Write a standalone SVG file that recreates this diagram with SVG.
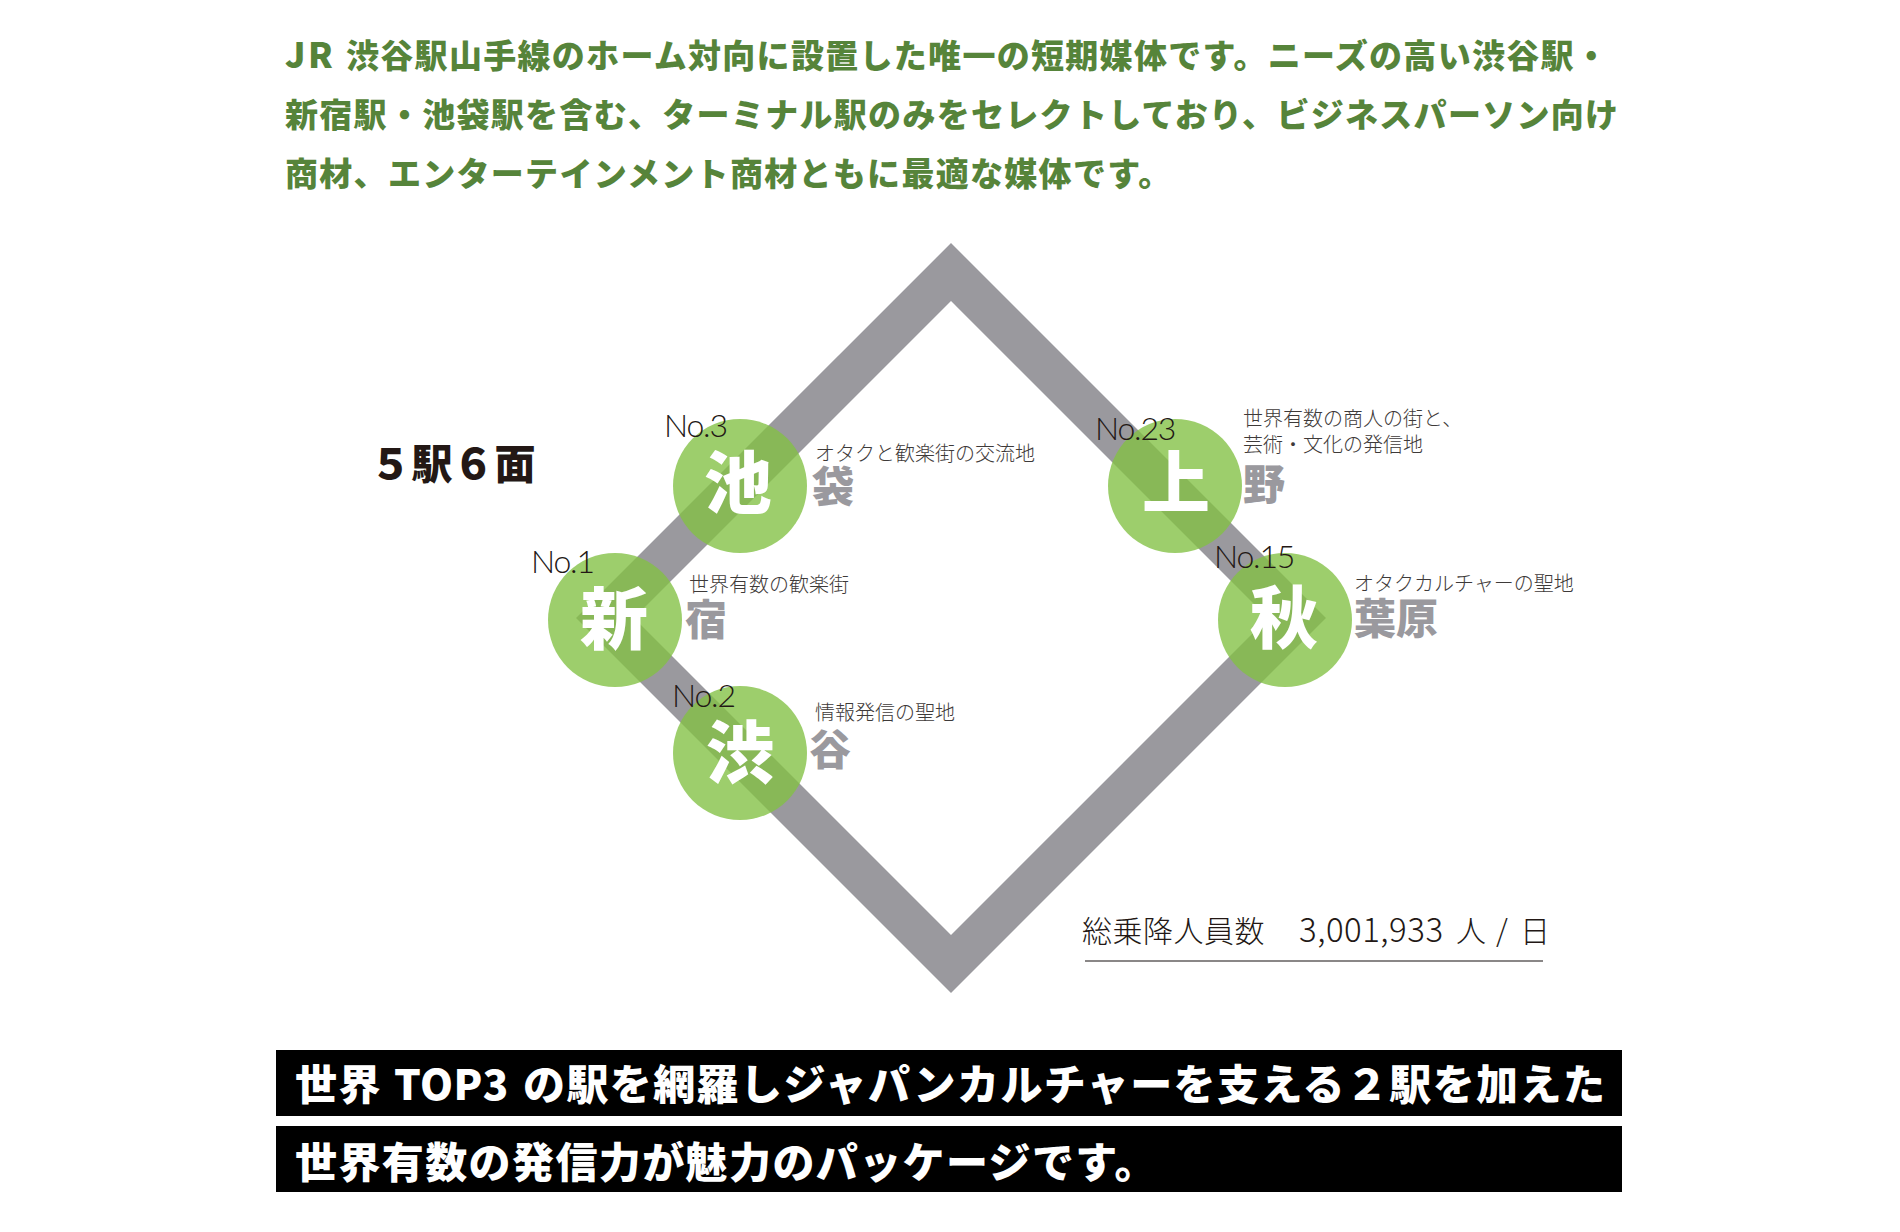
<svg xmlns="http://www.w3.org/2000/svg" width="1900" height="1232" viewBox="0 0 1900 1232">
<style>
.hd{font-family:"Noto Sans CJK JP","Noto Sans CJK SC",sans-serif;font-weight:900;font-size:33px;fill:#56843a;letter-spacing:1.3px}
.big{font-family:"Noto Sans CJK JP",sans-serif;font-weight:900;font-size:68px;fill:#ffffff;text-anchor:middle}
.sub{font-family:"Noto Sans CJK JP",sans-serif;font-weight:900;font-size:42px;fill:#9a999e}
.cap{font-family:"Noto Sans CJK JP",sans-serif;font-weight:300;font-size:20px;fill:#3e3a39}
.no{font-family:"Lato","Open Sans",sans-serif;font-weight:300;font-size:32px;fill:#231815;letter-spacing:-1.2px}
.circ{fill:#83c145;fill-opacity:0.79}
.bar{fill:#000000}
.bt{font-family:"Noto Sans CJK JP",sans-serif;font-weight:900;font-size:42px;fill:#ffffff;letter-spacing:1.4px}
.tot{font-family:"Noto Sans CJK JP",sans-serif;font-weight:300;font-size:30px;fill:#231815;letter-spacing:0.5px}
</style>
<rect width="1900" height="1232" fill="#ffffff"/>
<g id="header">
<text class="hd" y="68"><tspan x="285" font-size="35" letter-spacing="2.5">JR</tspan><tspan x="346">渋谷駅山手線のホーム対向に設置した唯一の短期媒体です。ニーズの高い渋谷駅・</tspan></text>
<text class="hd" x="285" y="127">新宿駅・池袋駅を含む、ターミナル駅のみをセレクトしており、ビジネスパーソン向け</text>
<text class="hd" x="285" y="186">商材、エンターテインメント商材ともに最適な媒体です。</text>
</g>
<g id="connectors">
<polygon points="951,272 1297,618 951,964 605,618" fill="none" stroke="#9a999e" stroke-width="41" stroke-linejoin="miter" stroke-miterlimit="10"/>
</g>
<g id="title">
<text x="370" y="479" font-family="Noto Sans CJK JP, sans-serif" font-weight="900" font-size="41" fill="#231815" letter-spacing="0.5">５駅６面</text>
</g>
<g id="node-ikebukuro">
<circle class="circ" cx="740" cy="486" r="67"/>
<text class="big" x="738" y="508">池</text>
<text class="sub" x="812" y="502">袋</text>
<text class="no" x="664" y="437">No.3</text>
<text class="cap" x="815" y="461">オタクと歓楽街の交流地</text>
</g>
<g id="node-shinjuku">
<circle class="circ" cx="615" cy="620" r="67"/>
<text class="big" x="614" y="644">新</text>
<text class="sub" x="685" y="635">宿</text>
<text class="no" x="531" y="573">No.1</text>
<text class="cap" x="689" y="592">世界有数の歓楽街</text>
</g>
<g id="node-shibuya">
<circle class="circ" cx="740" cy="753" r="67"/>
<text class="big" x="740" y="778">渋</text>
<text class="sub" x="809" y="765">谷</text>
<text class="no" x="672" y="707">No.2</text>
<text class="cap" x="815" y="720">情報発信の聖地</text>
</g>
<g id="node-ueno">
<circle class="circ" cx="1175" cy="486" r="67"/>
<text class="big" x="1176" y="508">上</text>
<text class="sub" x="1243" y="500">野</text>
<text class="no" x="1095" y="440">No.23</text>
<text class="cap" x="1243" y="426">世界有数の商人の街と、</text>
<text class="cap" x="1243" y="452">芸術・文化の発信地</text>
</g>
<g id="node-akihabara">
<circle class="circ" cx="1285" cy="620" r="67"/>
<text class="big" x="1284" y="643">秋</text>
<text class="sub" x="1354" y="634">葉原</text>
<text class="no" x="1214" y="568">No.15</text>
<text class="cap" x="1354" y="591">オタクカルチャーの聖地</text>
</g>
<g id="total">
<text class="tot" y="942"><tspan x="1082">総乗降人員数</tspan><tspan x="1299" font-size="33">3,001,933</tspan><tspan x="1456">人</tspan><tspan x="1496">/</tspan><tspan x="1520">日</tspan></text>
<line x1="1085" y1="961" x2="1543" y2="961" stroke="#8a8787" stroke-width="2"/>
</g>
<g id="bottom">
<rect class="bar" x="276" y="1050" width="1346" height="66"/>
<rect class="bar" x="276" y="1126" width="1346" height="66"/>
<text class="bt" y="1100"><tspan x="295">世界</tspan><tspan x="394" letter-spacing="0.5">TOP3</tspan><tspan x="523" letter-spacing="1.4">の駅を網羅しジャパンカルチャーを支える２駅を加えた</tspan></text>
<text class="bt" x="295" y="1178">世界有数の発信力が魅力のパッケージです。</text>
</g>
</svg>
